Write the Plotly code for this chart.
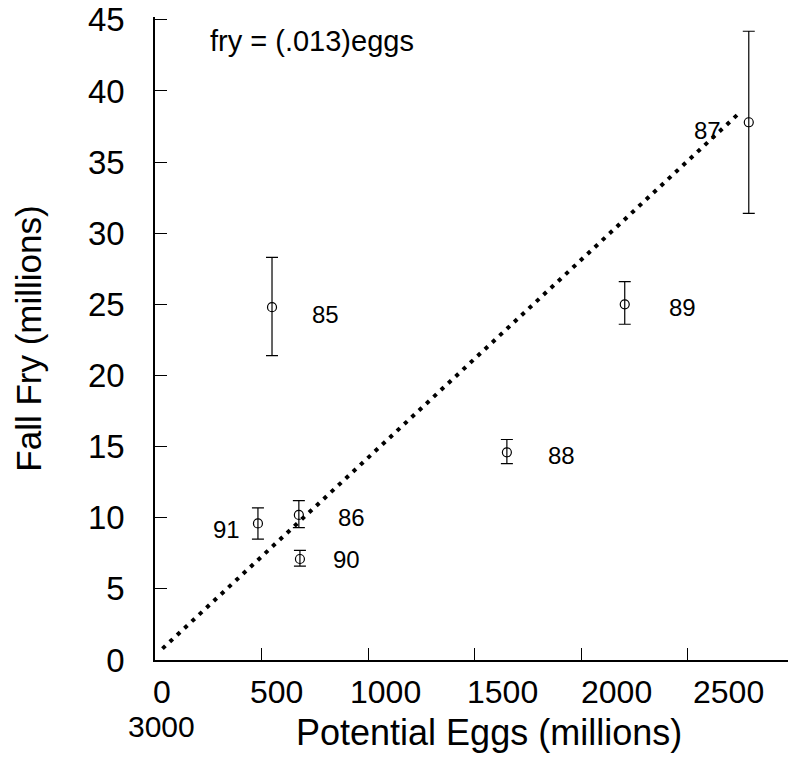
import plotly.graph_objects as go

# Data
years = ["85", "86", "87", "88", "89", "90", "91"]
eggs = [549, 675, 2786, 1651, 2204, 680, 483]
fry = [24.8, 10.2, 37.8, 14.6, 25.0, 7.1, 9.6]
err_plus = [3.5, 1.0, 6.4, 0.9, 1.6, 0.6, 1.1]
err_minus = [3.4, 0.9, 6.4, 0.8, 1.4, 0.5, 1.1]

# regression line fry = (.013) eggs (as drawn)
line_eggs = [35, 2745]
line_fry = [0.8, 38.5]

# label offsets (pixels) for year labels
label_dx = [53, 53, -41, 55, 58, 47, -31]
label_dy = [-7, -3, -8, -3, -3, 0, -6]

x_tick_vals = [500, 1000, 1500, 2000, 2500]
x_label_text = ["0", "500", "1000", "1500", "2000", "2500"]
x_label_pos = [33, 568, 1080, 1629, 2164, 2690]
y_tick_vals = [0, 5, 10, 15, 20, 25, 30, 35, 40, 45]

FONT = "Liberation Sans, Arial, sans-serif"

fig = go.Figure()
fig.add_trace(go.Scatter(
    x=line_eggs, y=line_fry, mode="lines",
    line=dict(color="black", width=4, dash="4px,6px"),
    showlegend=False, hoverinfo="skip"))
fig.add_trace(go.Scatter(
    x=eggs, y=fry, mode="markers",
    marker=dict(symbol="circle-open", size=9, color="black", line=dict(width=1.2, color="black")),
    error_y=dict(type="data", symmetric=False, array=err_plus, arrayminus=err_minus,
                 color="black", thickness=1.2, width=6),
    showlegend=False))

for yr, ex, fy, dx, dy in zip(years, eggs, fry, label_dx, label_dy):
    fig.add_annotation(x=ex, y=fy, text=yr, showarrow=False, xshift=dx, yshift=dy,
                       font=dict(family=FONT, size=24, color="black"))

for t, p in zip(x_label_text, x_label_pos):
    fig.add_annotation(x=p, y=0, xref="x", yref="y", text=t, showarrow=False,
                       yanchor="top", yshift=-12,
                       font=dict(family=FONT, size=32, color="black"))
fig.add_annotation(x=0.0095, y=-0.104, xref="paper", yref="paper", text="3000",
                   showarrow=False, xanchor="center", yanchor="middle",
                   font=dict(family=FONT, size=30, color="black"))
fig.add_annotation(x=0.527, y=-0.112, xref="paper", yref="paper",
                   text="Potential Eggs (millions)", showarrow=False,
                   xanchor="center", yanchor="middle",
                   font=dict(family=FONT, size=36, color="black"))
fig.add_annotation(x=0.083, y=0.963, xref="paper", yref="paper",
                   text="fry = (.013)eggs", showarrow=False,
                   xanchor="left", yanchor="middle",
                   font=dict(family=FONT, size=29, color="black"))

fig.update_layout(
    width=788, height=760,
    margin=dict(l=155, r=0, t=17, b=100),
    paper_bgcolor="white", plot_bgcolor="white",
    font=dict(family=FONT, color="black"),
    xaxis=dict(range=[0, 2970], tickvals=x_tick_vals, showticklabels=False,
               ticks="inside", ticklen=12, tickcolor="black", tickwidth=1,
               showline=True, linecolor="black", linewidth=1.5,
               showgrid=False, zeroline=False),
    yaxis=dict(range=[0, 45.2], tickvals=y_tick_vals,
               ticks="inside", ticklen=12, tickcolor="black", tickwidth=1,
               showline=True, linecolor="black", linewidth=1.5,
               showgrid=False, zeroline=False,
               tickfont=dict(family=FONT, size=33, color="black"),
               ticklabelstandoff=22,
               title=dict(text="Fall Fry (millions)", standoff=36,
                          font=dict(family=FONT, size=35, color="black"))),
)

fig.write_html("out.html")
